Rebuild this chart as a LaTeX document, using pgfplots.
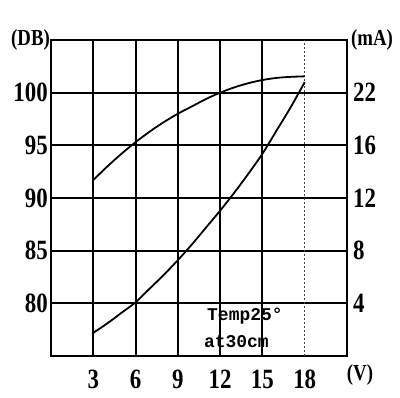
\documentclass[border=0pt]{standalone}
\usepackage{fontspec}
\setmainfont{Liberation Serif}
\newfontfamily\tickfont[FakeStretch=0.82]{Liberation Serif}
\newfontfamily\monof{Liberation Mono}
\usepackage{pgfplots}
\pgfplotsset{compat=1.18}
\begin{document}
\begin{tikzpicture}
\useasboundingbox (-51bp,-42bp) rectangle (349bp,356bp);
\begin{axis}[
  at={(0,0)}, anchor=south west,
  scale only axis, width=296bp, height=316bp,
  xmin=0, xmax=21, ymin=75, ymax=105,
  xtick={3,6,9,12,15}, extra x ticks={18},
  extra x tick style={grid style={black!75, dotted, line width=1.2bp}},
  ytick={80,85,90,95,100},
  ytick pos=left, xtick pos=bottom,
  major tick length=0pt,
  grid=major,
  grid style={black, line width=2bp},
  axis line style={line width=2bp},
  /pgf/number format/assume math mode=true,
  ticklabel style={font=\tickfont\bfseries\fontsize{28}{28}\selectfont, inner sep=0pt},
  yticklabel style={anchor=east, xshift=-3bp},
  xticklabel style={anchor=north, yshift=-14bp},
  clip=false,
]
\addplot[black, line width=1.8bp, smooth] coordinates {
 (3,91.7) (4,93.0) (5,94.2) (6,95.3) (7,96.3) (8,97.2) (9,98.0) (10,98.7)
 (11,99.4) (12,100.0) (13,100.5) (14,100.9) (15,101.2) (16,101.4) (17,101.5) (18,101.55)};
\addplot[black, line width=1.8bp, smooth] coordinates {
 (3,77.2) (4,78.1) (5,79.1) (6,80.1) (7,81.4) (8,82.7) (9,84.1) (10,85.6)
 (11,87.2) (12,88.8) (13,90.5) (14,92.3) (15,94.2) (16,96.4) (17,98.6) (18,101.0)};
\node[anchor=west, inner sep=0pt, font=\monof\bfseries\fontsize{18}{18}\selectfont] at (axis cs:11.07,78.8) {Temp25°};
\node[anchor=west, inner sep=0pt, font=\monof\bfseries\fontsize{18}{18}\selectfont] at (axis cs:10.85,76.4) {at30cm};
\node[anchor=east, inner sep=0pt, font=\tickfont\bfseries\fontsize{23}{23}\selectfont] at ([xshift=-1bp]rel axis cs:0,1) {(DB)};
\node[anchor=west, inner sep=0pt, font=\tickfont\bfseries\fontsize{23}{23}\selectfont] at ([xshift=4bp]rel axis cs:1,1) {(mA)};
\node[anchor=center, inner sep=0pt, font=\tickfont\bfseries\fontsize{23}{23}\selectfont] at ([xshift=13bp,yshift=-19bp]rel axis cs:1,0) {(V)};
\end{axis}
\begin{axis}[
  at={(0,0)}, anchor=south west,
  scale only axis, width=296bp, height=316bp,
  xmin=0, xmax=21, ymin=75, ymax=105,
  hide x axis,
  axis y line*=right,
  axis line style={line width=2bp, -},
  ytick={80,85,90,95,100},
  yticklabels={4,8,12,16,22},
  major tick length=0pt,
  ticklabel style={font=\tickfont\bfseries\fontsize{28}{28}\selectfont, inner sep=0pt},
  yticklabel style={anchor=west, xshift=6bp},
]
\addplot[draw=none] coordinates {(3,80)};
\end{axis}
\end{tikzpicture}
\end{document}
